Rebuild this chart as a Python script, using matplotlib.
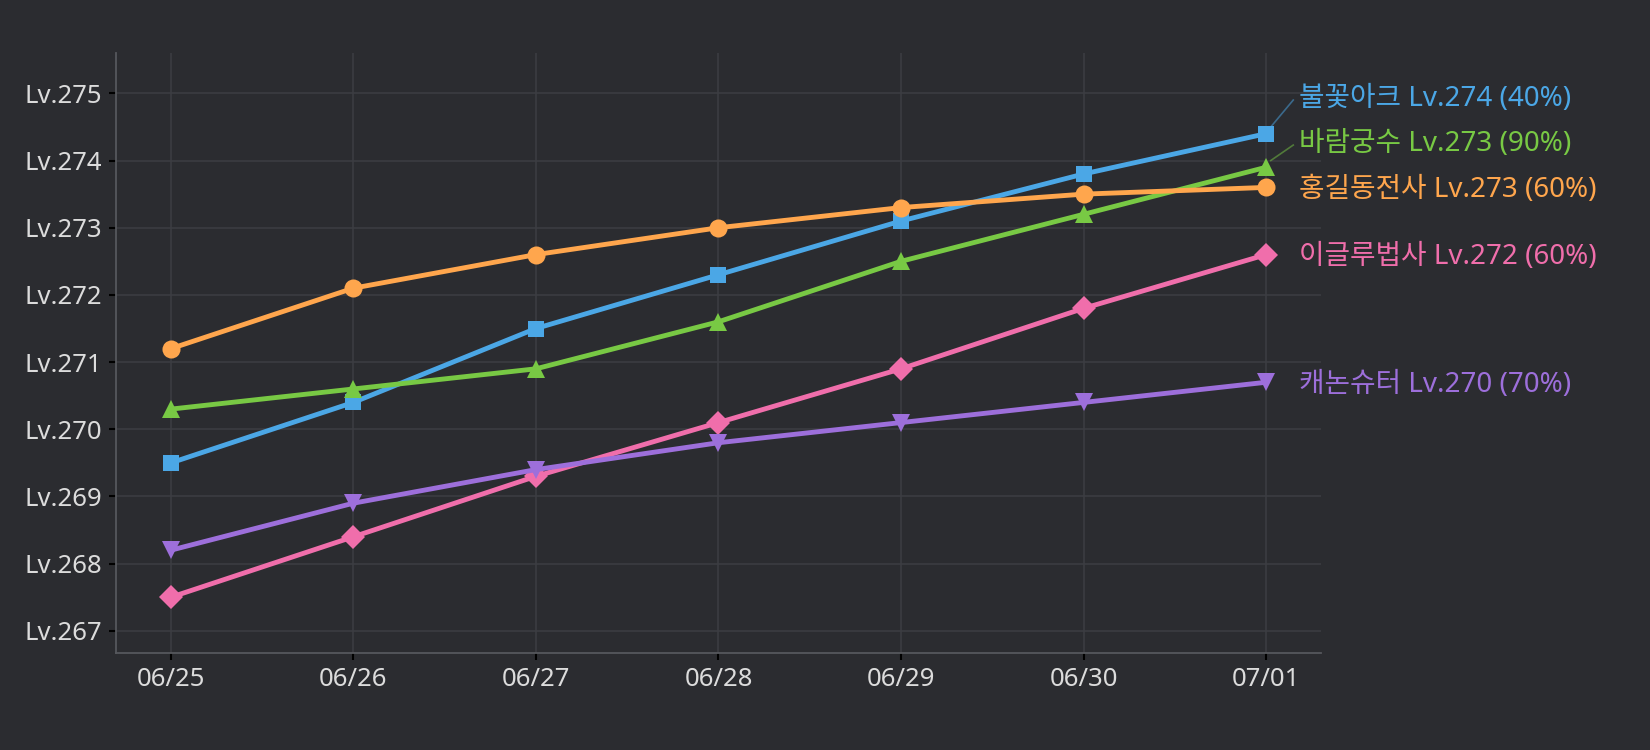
import matplotlib
matplotlib.use('Agg')
from matplotlib import pyplot as plt

plt.rcParams['font.family'] = ['Noto Sans', 'Noto Sans CJK KR', 'DejaVu Sans']

dates = ['06/25', '06/26', '06/27', '06/28', '06/29', '06/30', '07/01']

names = ['불꽃아크', '바람궁수', '홍길동전사', '이글루법사', '캐논슈터']
levels = [274, 273, 273, 272, 270]
percents = [40, 90, 60, 60, 70]

blue = [269.5, 270.4, 271.5, 272.3, 273.1, 273.8, 274.4]
green = [270.3, 270.6, 270.9, 271.6, 272.5, 273.2, 273.9]
orange = [271.2, 272.1, 272.6, 273.0, 273.3, 273.5, 273.6]
pink = [267.5, 268.4, 269.3, 270.1, 270.9, 271.8, 272.6]
purple = [268.2, 268.9, 269.4, 269.8, 270.1, 270.4, 270.7]

series = [blue, green, orange, pink, purple]
colors = ['#4ba7e6', '#78c944', '#ffa64d', '#f06eab', '#9d6fdb']
markers = ['s', '^', 'o', 'D', 'v']
msizes = [12, 13, 13, 12, 13]
# vertical label nudge (in level units) to keep right-hand labels apart
nudges = [0.55, 0.38, 0, 0, 0]

bg = '#2b2c30'
fig = plt.figure(figsize=(16.5, 7.5), dpi=100, facecolor=bg)
ax = fig.add_axes([0.0703, 0.1293, 0.7303, 0.80])
ax.set_facecolor(bg)

x = list(range(len(dates)))
for vals, c, m, ms in zip(series, colors, markers, msizes):
    ax.plot(x, vals, color=c, lw=3.5, marker=m, markersize=ms,
            markeredgewidth=0, zorder=3, clip_on=False)

last = x[-1]
for vals, c, nm, lv, pc, nd in zip(series, colors, names, levels, percents, nudges):
    y = vals[-1]
    if nd:
        # short leader line from the marker up to the shifted label
        ax.plot([last + 0.025, last + 0.148], [y + 0.1, y + nd - 0.05],
                color=c, alpha=0.5, lw=1.2, clip_on=False, zorder=2)
    ax.text(last + 0.18, y + nd - 0.035, f'{nm} Lv.{lv} ({pc}%)', color=c,
            fontsize=20, va='center', ha='left', clip_on=False)

ax.set_xlim(-0.3, 6.3)
ax.set_ylim(266.67, 275.6)
ax.set_xticks(x)
ax.set_xticklabels(dates)
yt = list(range(267, 276))
ax.set_yticks(yt)
ax.set_yticklabels([f'Lv.{v}' for v in yt])

ax.grid(True, color='#3d3e43', lw=1.1)
ax.set_axisbelow(True)
for s in ['top', 'right']:
    ax.spines[s].set_visible(False)
for s in ['left', 'bottom']:
    ax.spines[s].set_color('#56585d')
    ax.spines[s].set_linewidth(1.3)
ax.tick_params(colors='#000000', labelcolor='#dcdcdc', labelsize=18.5,
               length=5, width=1.5, pad=5)

fig.savefig('out.png', dpi=100, facecolor=bg)
